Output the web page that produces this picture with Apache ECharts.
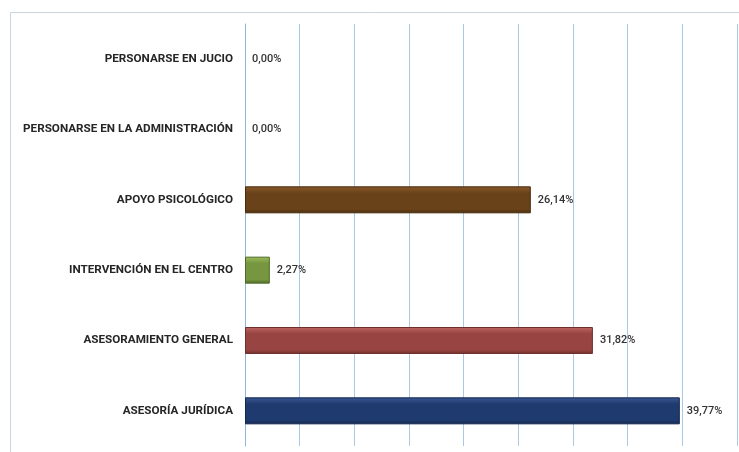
<!DOCTYPE html>
<html>
<head>
<meta charset="utf-8">
<script src="https://cdn.jsdelivr.net/npm/echarts@6/dist/echarts.min.js"></script>
<style>
  html, body { margin: 0; padding: 0; background: #fff; }
  #main { width: 739px; height: 452px; }
</style>
</head>
<body>
<div id="main"></div>
<script>
// categories listed bottom to top, as ECharts draws a category y axis
const categories = [
    'ASESORÍA JURÍDICA',
    'ASESORAMIENTO GENERAL',
    'INTERVENCIÓN EN EL CENTRO',
    'APOYO PSICOLÓGICO',
    'PERSONARSE EN LA ADMINISTRACIÓN',
    'PERSONARSE EN JUCIO'
];
const percents = [39.77, 31.82, 2.27, 26.14, 0, 0];
const barColors = [
    ['#3a5a96', '#1f3a6e', '#14264d'],
    ['#c06664', '#974442', '#6e2f2d'],
    ['#9cbf5e', '#76963f', '#4f6a26'],
    ['#8a5a2a', '#6a4219', '#472b0e']
];

const myChart = echarts.init(document.getElementById('main'));

const shade = (c) => new echarts.graphic.LinearGradient(0, 0, 0, 1, [
    { offset: 0, color: c[0] },
    { offset: 0.25, color: c[1] },
    { offset: 0.85, color: c[1] },
    { offset: 1, color: c[2] }
]);

const option = {
    animation: false,
    graphic: [{
        type: 'rect',
        shape: { x: 10.5, y: 12.5, width: 760, height: 460 },
        style: { fill: 'none', stroke: '#c9d6e2', lineWidth: 1 },
        silent: true
    }],
    grid: {
        left: 245,
        right: 2,
        top: 24,
        bottom: 6
    },
    xAxis: {
        type: 'value',
        min: 0,
        max: 45,
        interval: 5,
        axisLabel: { show: false },
        axisLine: { show: false },
        axisTick: { show: false },
        splitLine: { lineStyle: { color: '#a9c9e4', width: 1 } }
    },
    yAxis: {
        type: 'category',
        data: categories,
        axisLine: { lineStyle: { color: '#8fb6da' } },
        axisTick: { length: 4, lineStyle: { color: '#8fb6da' } },
        axisLabel: {
            margin: 12,
            color: '#262626',
            fontFamily: 'Roboto',
            fontWeight: 'bold',
            fontSize: 11.7
        }
    },
    series: [{
        type: 'bar',
        barWidth: 27,
        data: percents.map((v, i) => ({
            value: v,
            itemStyle: barColors[i] ? {
                color: shade(barColors[i]),
                borderColor: barColors[i][2],
                borderWidth: 1
            } : {}
        })),
        label: {
            show: true,
            position: 'right',
            distance: 7,
            color: '#333',
            fontFamily: 'Roboto',
            fontWeight: 500,
            fontSize: 11,
            formatter: (p) => p.value.toFixed(2).replace('.', ',') + '%'
        }
    }]
};
myChart.setOption(option);
</script>
</body>
</html>
